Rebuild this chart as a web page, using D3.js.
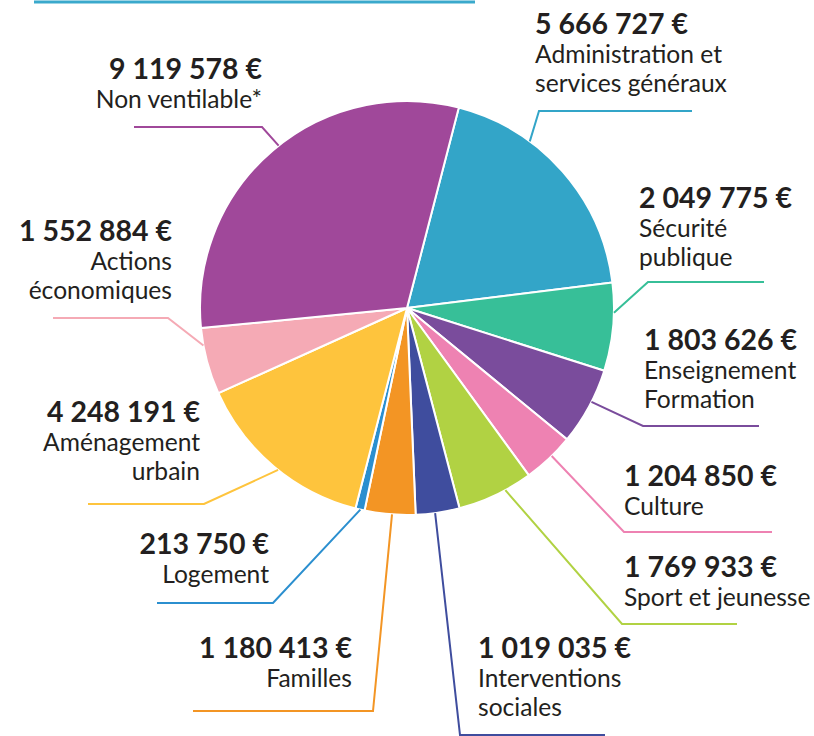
<!DOCTYPE html>
<html>
<head>
<meta charset="utf-8">
<script src="https://cdn.jsdelivr.net/npm/d3@7"></script>
<style>
  body { margin: 0; background: #fff; }
  svg text { font-family: Lato, "Open Sans", sans-serif; fill: #231f20; }
</style>
</head>
<body>
<script>
// budget par fonction, dans l'ordre du camembert (sens horaire)
const categories = ["Administration", "Sécurité", "Enseignement", "Culture", "Sport",
  "Interventions", "Familles", "Logement", "Aménagement", "Actions", "Non ventilable"];
const amounts = [5666727, 2049775, 1803626, 1204850, 1769933,
  1019035, 1180413, 213750, 4248191, 1552884, 9119578];
const labelLines = [
  ["Administration et", "services généraux"],
  ["Sécurité", "publique"],
  ["Enseignement", "Formation"],
  ["Culture"],
  ["Sport et jeunesse"],
  ["Interventions", "sociales"],
  ["Familles"],
  ["Logement"],
  ["Aménagement", "urbain"],
  ["Actions", "économiques"],
  ["Non ventilable*"]
];
const colors = ["#33a5c8", "#37bf98", "#7a4c9c", "#ee82b2", "#b1d243",
  "#3f4d9e", "#f39524", "#2b8fcf", "#fec43d", "#f5aab5", "#a0489a"];

// placement des étiquettes : ancre, x du texte, ligne de base du montant,
// point sur l'arc (fraction de la part), coude et fin du trait
const layout = [
  { anchor: "start", x: 535, y: 34,  t: 0.32, elbow: [539, 111], end: 692 },
  { anchor: "start", x: 639, y: 208, t: 0.34, elbow: [648, 282], end: 764 },
  { anchor: "start", x: 644, y: 350, t: 0.43, elbow: [643, 426], end: 759 },
  { anchor: "start", x: 624, y: 486, t: 0.43, elbow: [624, 532], end: 772 },
  { anchor: "start", x: 624, y: 577, t: 0.36, elbow: [622, 624], end: 737 },
  { anchor: "start", x: 478, y: 658, t: 0.56, elbow: [460, 735], end: 605 },
  { anchor: "end",   x: 352, y: 658, t: 0.46, elbow: [373, 711], end: 193 },
  { anchor: "end",   x: 269, y: 554, t: 0.46, elbow: [273, 603], end: 157 },
  { anchor: "end",   x: 200, y: 422, t: 0.47, elbow: [204, 504], end: 88 },
  { anchor: "end",   x: 172, y: 241, t: 0.74, elbow: [168, 318], end: 53 },
  { anchor: "end",   x: 262, y: 79,  t: 0.52, elbow: [262, 127], end: 134 }
];

const width = 814, height = 736;
const cx = 407, cy = 308, radius = 207;
const startAngle = 14.5 * Math.PI / 180;

const fr = d3.formatLocale({ decimal: ",", thousands: "\u00a0", grouping: [3], currency: ["", "\u00a0€"] });
const euro = fr.format("$,.0f");

const svg = d3.select("body").append("svg")
  .attr("width", width)
  .attr("height", height);

// trait bleu en haut (élément coupé de la page d'origine)
svg.append("line")
  .attr("x1", 34).attr("x2", 475)
  .attr("y1", 2).attr("y2", 2)
  .style("stroke", "#3aa9cc")
  .style("stroke-width", 3);

const pie = d3.pie()
  .sort(null)
  .value(d => d)
  .startAngle(startAngle)
  .endAngle(startAngle + 2 * Math.PI);

const arcs = pie(amounts);
const arc = d3.arc().innerRadius(0).outerRadius(radius);

const g = svg.append("g")
  .attr("transform", "translate(" + cx + "," + cy + ")");

g.selectAll("path.slice")
  .data(arcs)
  .enter()
  .append("path")
  .attr("class", "slice")
  .attr("d", arc)
  .style("fill", (d, i) => colors[i])
  .style("stroke", "#fff")
  .style("stroke-width", 2)
  .style("stroke-linejoin", "round");

// traits de rappel
const leader = d3.line();
arcs.forEach(function (d, i) {
  const L = layout[i];
  const a = d.startAngle + L.t * (d.endAngle - d.startAngle);
  const p0 = [cx + radius * Math.sin(a), cy - radius * Math.cos(a)];
  svg.append("path")
    .attr("d", leader([p0, L.elbow, [L.end, L.elbow[1]]]))
    .style("fill", "none")
    .style("stroke", colors[i])
    .style("stroke-width", 2);
});

// étiquettes
const labels = svg.selectAll("g.label")
  .data(arcs)
  .enter()
  .append("g")
  .attr("class", "label");

labels.append("text")
  .attr("x", (d, i) => layout[i].x)
  .attr("y", (d, i) => layout[i].y)
  .attr("text-anchor", (d, i) => layout[i].anchor)
  .style("font-size", "28.5px")
  .style("font-weight", "bold")
  .text(d => euro(d.data));

labels.each(function (d, i) {
  const L = layout[i];
  d3.select(this).selectAll("text.name")
    .data(labelLines[i])
    .enter()
    .append("text")
    .attr("class", "name")
    .attr("x", L.x)
    .attr("y", (s, j) => L.y + 29 * (j + 1))
    .attr("text-anchor", L.anchor)
    .style("font-size", "24.6px")
    .text(s => s);
});
</script>
</body>
</html>
